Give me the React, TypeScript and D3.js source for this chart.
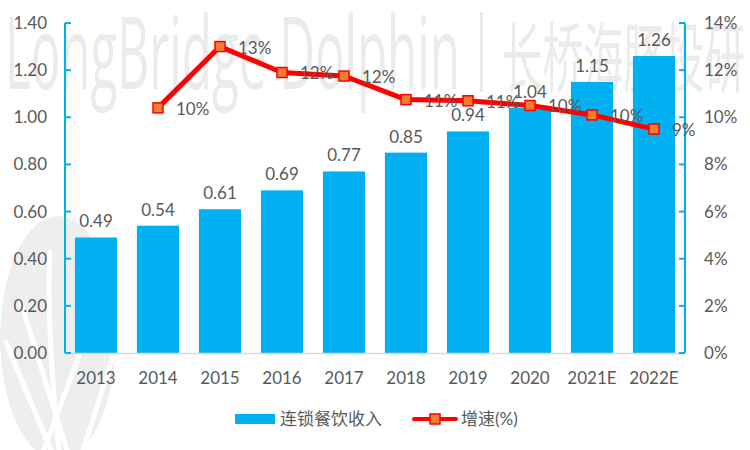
import React from "react";
import * as d3 from "d3";

const categories = ["2013", "2014", "2015", "2016", "2017", "2018", "2019", "2020", "2021E", "2022E"];
const revenue = [0.49, 0.54, 0.61, 0.69, 0.77, 0.85, 0.94, 1.04, 1.15, 1.26];
const growth: (number | null)[] = [null, 10.4, 13.0, 11.9, 11.75, 10.75, 10.7, 10.5, 10.1, 9.5];
const growthLabels = ["", "10%", "13%", "12%", "12%", "11%", "11%", "10%", "10%", "9%"];
const leftTicks = [0, 0.2, 0.4, 0.6, 0.8, 1.0, 1.2, 1.4];
const rightTicks = [0, 2, 4, 6, 8, 10, 12, 14];
const legendLabels = ["连锁餐饮收入", "增速(%)"];

const W = 750, H = 450;
const left = 65, right = 685, top = 23, bottom = 353;
const BLUE = "#00B0F0";
const TXT = "#595959";
const FONT = "Lato, 'Noto Sans CJK SC', sans-serif";

export default function App() {
  const x = d3.scaleBand<string>().domain(categories).range([left, right]).paddingInner(0.32).paddingOuter(0.16);
  const yL = d3.scaleLinear().domain([0, 1.4]).range([bottom, top]);
  const yR = d3.scaleLinear().domain([0, 14]).range([bottom, top]);
  const cx = (c: string) => (x(c) as number) + x.bandwidth() / 2;
  const pts = categories.map((c, i) => ({ c, v: growth[i], l: growthLabels[i] })).filter((d) => d.v !== null) as { c: string; v: number; l: string }[];
  const line = d3.line<{ c: string; v: number }>().x((d) => cx(d.c)).y((d) => yR(d.v));

  return (
    <svg width={W} height={H} style={{ position: "absolute", left: 0, top: 0, background: "#fff" }} fontFamily={FONT}>
      <defs>
        <clipPath id="logoClip">
          <ellipse cx={58} cy={338} rx={58} ry={122} />
        </clipPath>
      </defs>
      {/* watermark */}
      <g fill="#ebebeb" fontFamily="'Open Sans', 'Noto Sans', sans-serif">
        <text x={5} y={89} fontSize={100} textLength={455} lengthAdjust="spacingAndGlyphs">LongBridge Dolphin</text>
        <rect x={480} y={12} width={3} height={80} />
        <text x={502} y={86} fontSize={76} fontFamily="'Noto Sans CJK SC', sans-serif" textLength={243} lengthAdjust="spacingAndGlyphs">长桥海豚投研</text>
      </g>
      <g clipPath="url(#logoClip)">
        <ellipse cx={58} cy={338} rx={58} ry={122} fill="#eeeeee" />
        <g stroke="#fff" strokeWidth={5} fill="none">
          <path d="M50,250 Q46,330 60,460" />
          <path d="M20,300 L70,460" />
          <path d="M5,340 L55,460" />
          <path d="M100,300 L40,460" />
          <path d="M115,350 L80,460" />
        </g>
      </g>

      {/* bars */}
      {categories.map((c, i) => (
        <rect key={c} x={x(c)} y={yL(revenue[i])} width={x.bandwidth()} height={bottom - yL(revenue[i])} fill={BLUE} />
      ))}
      {/* baseline */}
      <line x1={left} x2={right} y1={bottom + 0.5} y2={bottom + 0.5} stroke="#d9d9d9" strokeWidth={1.5} />

      {/* left axis */}
      <line x1={left} x2={left} y1={top} y2={bottom} stroke={BLUE} strokeWidth={2} />
      {leftTicks.map((t) => (
        <g key={t}>
          <line x1={left} x2={left + 6} y1={yL(t)} y2={yL(t)} stroke={BLUE} strokeWidth={2} />
          <text x={47} y={yL(t)} dy="0.35em" textAnchor="end" fontSize={17} fill={TXT}>{t.toFixed(2)}</text>
        </g>
      ))}
      {/* right axis */}
      <line x1={right} x2={right} y1={top} y2={bottom} stroke={BLUE} strokeWidth={2} />
      {rightTicks.map((t) => (
        <g key={t}>
          <line x1={right - 6} x2={right} y1={yR(t)} y2={yR(t)} stroke={BLUE} strokeWidth={2} />
          <text x={704} y={yR(t)} dy="0.35em" textAnchor="start" fontSize={17} fill={TXT}>{t}%</text>
        </g>
      ))}
      {/* x labels */}
      {categories.map((c) => (
        <text key={c} x={cx(c)} y={378} dy="0.35em" textAnchor="middle" fontSize={17} fill={TXT}>{c}</text>
      ))}
      {/* bar labels */}
      {categories.map((c, i) => (
        <text key={c} x={cx(c)} y={yL(revenue[i]) - 16} dy="0.35em" textAnchor="middle" fontSize={17} fill={TXT}>{revenue[i].toFixed(2)}</text>
      ))}

      {/* growth line */}
      <path d={line(pts) || ""} fill="none" stroke="#FF0000" strokeWidth={5} strokeLinejoin="round" />
      {pts.map((d) => (
        <rect key={d.c} x={cx(d.c) - 5} y={yR(d.v) - 5} width={10} height={10} fill="#ED7D31" stroke="#FF0000" strokeWidth={1.5} />
      ))}
      {pts.map((d) => (
        <text key={d.c} x={cx(d.c) + 18} y={yR(d.v) + 1} dy="0.35em" fontSize={17} fill={TXT}>{d.l}</text>
      ))}

      {/* legend */}
      <rect x={235} y={414} width={40} height={10} fill={BLUE} />
      <text x={280} y={419} dy="0.35em" fontSize={17} fill={TXT}>{legendLabels[0]}</text>
      <line x1={414} x2={456} y1={419} y2={419} stroke="#FF0000" strokeWidth={4} strokeLinecap="round" />
      <rect x={430} y={414} width={10} height={10} fill="#ED7D31" stroke="#FF0000" strokeWidth={1.5} />
      <text x={461} y={419} dy="0.35em" fontSize={17} fill={TXT}>{legendLabels[1]}</text>
    </svg>
  );
}
